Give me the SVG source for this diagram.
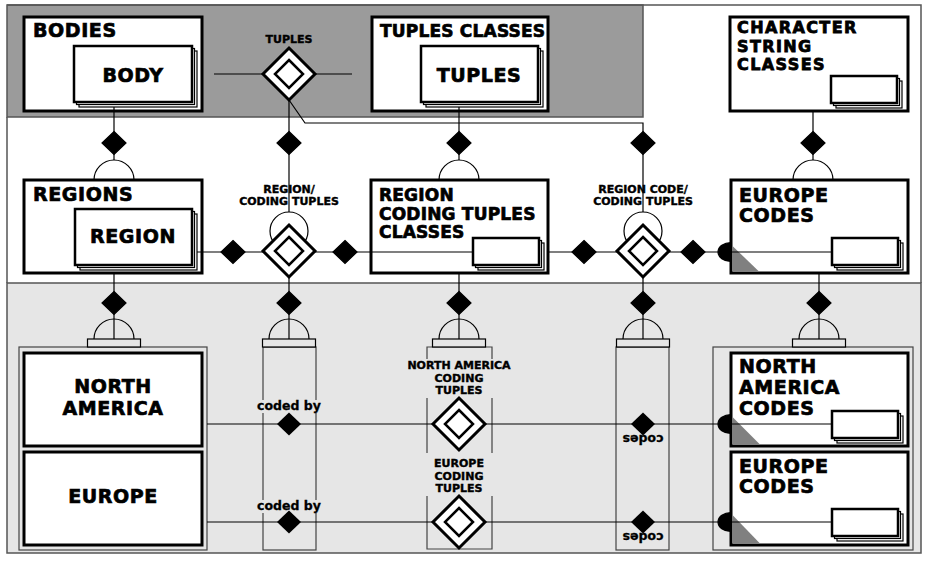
<svg xmlns="http://www.w3.org/2000/svg" xmlns:xlink="http://www.w3.org/1999/xlink" width="926" height="566" viewBox="0 0 926 566">
  <style>
    .box { fill: #fff; stroke: #000; stroke-width: 3; }
    .frame { fill: none; stroke: #444; stroke-width: 1.2; }
    .card { fill: #fff; stroke: #000; stroke-width: 2.5; }
    .cardback { fill: #fff; stroke: #000; stroke-width: 1.2; }
    .ln { fill: none; stroke: #000; stroke-width: 1.2; }
    .tri { fill: #808080; }
    .big { font-family: "DejaVu Sans", "Liberation Sans", sans-serif; font-weight: bold; font-size: 19px; letter-spacing: 0.6px; fill: #000; stroke: #000; stroke-width: 0.7px; }
    .narrow { font-size: 17px; letter-spacing: 0.2px; }
    .tight { font-size: 16px; letter-spacing: 1.4px; stroke-width: 0.8px; }
    .sm { font-family: "DejaVu Sans", "Liberation Sans", sans-serif; font-weight: bold; font-size: 11px; fill: #000; stroke: #000; stroke-width: 0.4px; text-anchor: middle; }
    .lbl { font-family: "DejaVu Sans", "Liberation Sans", sans-serif; font-weight: bold; font-size: 12.5px; fill: #000; stroke: #000; stroke-width: 0.3px; text-anchor: middle; }
    .gap { fill: #e6e6e6; }
    .mid { text-anchor: middle; }
  </style>
  <defs>
    <!-- small filled relationship diamond -->
    <path id="fd" d="M0,-11.5 L12,0 L0,11.5 L-12,0 Z" fill="#000"/>
    <!-- double-bordered associative diamond -->
    <g id="dd">
      <path d="M0,-26 L26,0 L0,26 L-26,0 Z" fill="#fff" stroke="#000" stroke-width="3"/>
      <path d="M0,-14 L14,0 L0,14 L-14,0 Z" fill="#fff" stroke="#000" stroke-width="2.5"/>
    </g>
    <!-- open half circle sitting on a box -->
    <path id="arc" d="M-20,0 A20,20 0 0 1 20,0" fill="none" stroke="#000" stroke-width="1.2"/>
    <!-- half circle with stem and base bar, above a partitioned set -->
    <g id="arcbar">
      <path d="M-20,0 A20,20 0 0 1 20,0" fill="none" stroke="#000" stroke-width="1.2"/>
      <line x1="0" y1="-26" x2="0" y2="0" stroke="#000" stroke-width="1.2"/>
      <rect x="-26.5" y="0" width="53" height="8" fill="#e6e6e6" stroke="#000" stroke-width="1.2"/>
    </g>
    <!-- solid half disc at a box edge -->
    <path id="hd" d="M0,-9.5 A13,9.5 0 0 0 0,9.5 Z" fill="#000"/>
    <!-- stacked small card -->
    <g id="scard">
      <rect x="5" y="5" width="66" height="27" class="cardback"/>
      <rect x="2.5" y="2.5" width="66" height="27" class="cardback"/>
      <rect x="0" y="0" width="66" height="27" class="card"/>
    </g>
  </defs>

  <!-- background bands -->
  <g id="background">
    <rect x="7" y="5" width="914" height="548" fill="#fff"/>
    <rect x="7" y="5" width="636" height="112" fill="#9b9b9b" stroke="#555" stroke-width="1.5"/>
    <rect x="7" y="283" width="914" height="270" fill="#e6e6e6" stroke="#555" stroke-width="1.5"/>
    <path d="M7,5 H921 V283" fill="none" stroke="#555" stroke-width="1.5"/>
    <line x1="7" y1="117" x2="7" y2="283" stroke="#555" stroke-width="1.5"/>
  </g>

  <!-- entity boxes -->
  <g id="bodies">
    <rect x="24" y="17" width="178" height="94" class="box"/>
    <text x="33" y="37" class="big">BODIES</text>
    <rect x="79" y="51" width="118" height="56" class="cardback"/>
    <rect x="76.5" y="48.5" width="118" height="56" class="cardback"/>
    <rect x="74" y="46" width="118" height="56" class="card"/>
    <text x="133" y="82" class="big mid">BODY</text>
  </g>

  <g id="tuples-classes">
    <rect x="372" y="17" width="176" height="94" class="box"/>
    <text x="380" y="37" class="big narrow">TUPLES CLASSES</text>
    <rect x="426" y="51" width="117" height="56" class="cardback"/>
    <rect x="423.5" y="48.5" width="117" height="56" class="cardback"/>
    <rect x="421" y="46" width="117" height="56" class="card"/>
    <text x="479" y="82" class="big mid">TUPLES</text>
  </g>

  <g id="character-string-classes">
    <rect x="730" y="17" width="178" height="94" class="box"/>
    <text x="737" y="33" class="big tight">CHARACTER</text>
    <text x="737" y="51.5" class="big tight">STRING</text>
    <text x="737" y="70" class="big tight">CLASSES</text>
    <use xlink:href="#scard" x="831" y="76"/>
  </g>

  <g id="regions">
    <rect x="24" y="180" width="178" height="93" class="box"/>
    <text x="33" y="201" class="big">REGIONS</text>
    <rect x="80" y="214" width="117" height="56" class="cardback"/>
    <rect x="77.5" y="211.5" width="117" height="56" class="cardback"/>
    <rect x="75" y="209" width="117" height="56" class="card"/>
    <text x="133" y="243" class="big mid">REGION</text>
  </g>

  <g id="region-coding-tuples-classes">
    <rect x="371" y="180" width="177" height="93" class="box"/>
    <text x="379" y="201" class="big narrow">REGION</text>
    <text x="379" y="219.5" class="big narrow">CODING TUPLES</text>
    <text x="379" y="238" class="big narrow">CLASSES</text>
    <use xlink:href="#scard" x="473" y="238"/>
  </g>

  <g id="europe-codes-class">
    <rect x="731" y="180" width="177" height="93" class="box"/>
    <text x="739" y="202" class="big">EUROPE</text>
    <text x="739" y="222" class="big">CODES</text>
    <path d="M732.5,246 V271.5 H759 Z" class="tri"/>
    <use xlink:href="#scard" x="832" y="238"/>
  </g>

  <g id="regions-set">
    <rect x="19" y="347" width="188" height="203" class="frame"/>
    <rect x="24" y="353" width="178" height="93" class="box"/>
    <text x="113" y="393" class="big mid">NORTH</text>
    <text x="113" y="415" class="big mid">AMERICA</text>
    <rect x="24" y="452" width="178" height="93" class="box"/>
    <text x="113" y="503" class="big mid">EUROPE</text>
  </g>

  <g id="codes-set">
    <rect x="713" y="347" width="200" height="203" class="frame"/>
    <rect x="731" y="353" width="177" height="93" class="box"/>
    <text x="739" y="373" class="big">NORTH</text>
    <text x="739" y="394" class="big">AMERICA</text>
    <text x="739" y="415" class="big">CODES</text>
    <path d="M732.5,417 V444.5 H760 Z" class="tri"/>
    <use xlink:href="#scard" x="832" y="411"/>
    <rect x="731" y="452" width="177" height="93" class="box"/>
    <text x="739" y="473" class="big">EUROPE</text>
    <text x="739" y="493" class="big">CODES</text>
    <path d="M732.5,515 V543.5 H760 Z" class="tri"/>
    <use xlink:href="#scard" x="832" y="509"/>
  </g>

  <g id="coded-by-set">
    <rect x="263" y="347" width="53" height="203" class="frame"/>
  </g>

  <g id="codes-rel-set">
    <rect x="616" y="347" width="53" height="203" class="frame"/>
  </g>

  <g id="coding-tuples-set" class="frame">
    <path d="M427,359 V347 H492 V359"/>
    <path d="M427,398 V453 M492,398 V453"/>
    <path d="M427,496 V549 H492 V496"/>
  </g>

  <!-- connectors -->
  <g id="connectors" class="ln">
    <line x1="214" y1="74" x2="352" y2="74"/>
    <path d="M289,100 L305,123 H643 V212"/>
    <line x1="289" y1="100" x2="289" y2="212"/>
    <line x1="114" y1="107" x2="114" y2="160"/>
    <line x1="459" y1="107" x2="459" y2="160"/>
    <line x1="813" y1="111" x2="813" y2="160"/>
    <line x1="114" y1="273" x2="114" y2="314"/>
    <line x1="289" y1="278" x2="289" y2="314"/>
    <line x1="459" y1="273" x2="459" y2="314"/>
    <line x1="643" y1="278" x2="643" y2="314"/>
    <line x1="819" y1="273" x2="819" y2="314"/>
    <line x1="197" y1="252" x2="473" y2="252"/>
    <line x1="548" y1="252" x2="832" y2="252"/>
    <line x1="207" y1="424" x2="832" y2="424"/>
    <line x1="207" y1="522" x2="832" y2="522"/>
    <circle cx="289" cy="231" r="19"/>
    <circle cx="643" cy="231" r="19"/>
    <use xlink:href="#hd" x="731" y="252"/>
    <use xlink:href="#hd" x="731" y="424"/>
    <use xlink:href="#hd" x="731" y="522"/>
    <use xlink:href="#arc" x="114" y="180"/>
    <use xlink:href="#arc" x="459" y="180"/>
    <use xlink:href="#arc" x="813" y="180"/>
    <use xlink:href="#fd" x="114" y="143"/>
    <use xlink:href="#fd" x="289" y="143"/>
    <use xlink:href="#fd" x="459" y="143"/>
    <use xlink:href="#fd" x="643" y="143"/>
    <use xlink:href="#fd" x="813" y="143"/>
    <use xlink:href="#fd" x="233" y="252"/>
    <use xlink:href="#fd" x="345" y="252"/>
    <use xlink:href="#fd" x="584" y="252"/>
    <use xlink:href="#fd" x="693" y="252"/>
    <use xlink:href="#fd" x="114" y="303"/>
    <use xlink:href="#fd" x="289" y="303"/>
    <use xlink:href="#fd" x="459" y="303"/>
    <use xlink:href="#fd" x="643" y="303"/>
    <use xlink:href="#fd" x="819" y="303"/>
    <use xlink:href="#arcbar" x="114" y="339"/>
    <use xlink:href="#arcbar" x="289" y="339"/>
    <use xlink:href="#arcbar" x="459" y="339"/>
    <use xlink:href="#arcbar" x="643" y="339"/>
    <use xlink:href="#arcbar" x="819" y="339"/>
  </g>

  <!-- relationship nodes -->
  <g id="tuples-rel">
    <text x="289" y="43" class="sm">TUPLES</text>
    <use xlink:href="#dd" x="289" y="74"/>
  </g>

  <g id="region-coding-tuples-rel">
    <text x="289" y="193" class="sm">REGION/</text>
    <text x="289" y="205" class="sm">CODING TUPLES</text>
    <use xlink:href="#dd" x="289" y="251"/>
  </g>

  <g id="region-code-coding-tuples-rel">
    <text x="643" y="193" class="sm">REGION CODE/</text>
    <text x="643" y="205" class="sm">CODING TUPLES</text>
    <use xlink:href="#dd" x="643" y="251"/>
  </g>

  <g id="coded-by-na">
    <rect x="256" y="400" width="66" height="13" class="gap"/>
    <text x="289" y="410" class="lbl">coded by</text>
    <use xlink:href="#fd" x="289" y="424"/>
  </g>

  <g id="coded-by-eu">
    <rect x="256" y="500" width="66" height="13" class="gap"/>
    <text x="289" y="510" class="lbl">coded by</text>
    <use xlink:href="#fd" x="289" y="522"/>
  </g>

  <g id="na-coding-tuples">
    <text x="459" y="369" class="sm">NORTH AMERICA</text>
    <text x="459" y="382" class="sm">CODING</text>
    <text x="459" y="394" class="sm">TUPLES</text>
    <use xlink:href="#dd" x="459" y="424"/>
  </g>

  <g id="eu-coding-tuples">
    <text x="459" y="467" class="sm">EUROPE</text>
    <text x="459" y="480" class="sm">CODING</text>
    <text x="459" y="492" class="sm">TUPLES</text>
    <use xlink:href="#dd" x="459" y="522"/>
  </g>

  <g id="codes-na">
    <use xlink:href="#fd" x="643" y="424"/>
    <text x="643" y="445" class="lbl" transform="rotate(180 643 440)">codes</text>
  </g>

  <g id="codes-eu">
    <use xlink:href="#fd" x="643" y="522"/>
    <text x="643" y="543" class="lbl" transform="rotate(180 643 538)">codes</text>
  </g>
</svg>
